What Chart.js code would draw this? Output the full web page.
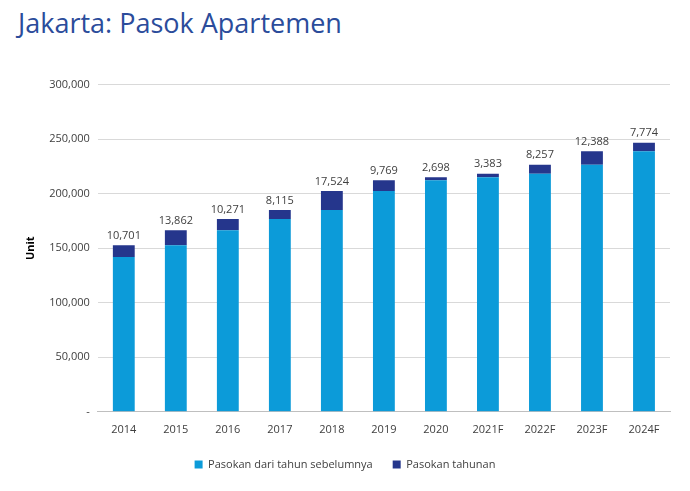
<!DOCTYPE html>
<html><head><meta charset="utf-8">
<script src="https://cdn.jsdelivr.net/npm/chart.js@4/dist/chart.umd.min.js"></script>
<style>
html,body{margin:0;padding:0;background:#fff;width:690px;height:491px;overflow:hidden;font-family:"Open Sans",sans-serif}
#title{position:absolute;left:18px;top:4px;font-size:27px;color:#2b4c9b;font-family:"Open Sans",sans-serif}
#wrap{position:absolute;left:20px;top:70px;width:660px;height:410px}
</style></head><body>
<div id="title">Jakarta: Pasok Apartemen</div>
<div id="wrap"><canvas id="c"></canvas></div>
<script>
const categories=["2014","2015","2016","2017","2018","2019","2020","2021F","2022F","2023F","2024F"];
const baseSupply=[142000,152701,166563,176834,184949,202473,212242,214940,218323,226580,238968];
const annualSupply=[10701,13862,10271,8115,17524,9769,2698,3383,8257,12388,7774];
const yTicks=[0,50000,100000,150000,200000,250000,300000];
const fmt=v=>v===0?"-":v.toLocaleString("en-US");
const labelPlugin={id:"lbl",afterDatasetsDraw(ch){const ctx=ch.ctx;const m=ch.getDatasetMeta(1);ctx.save();ctx.font="11px 'Open Sans'";ctx.fillStyle="#404040";ctx.textAlign="center";ctx.textBaseline="bottom";m.data.forEach((b,i)=>ctx.fillText(fmt(annualSupply[i]),b.x,b.y-4));ctx.restore();}};
new Chart(document.getElementById("c"),{type:"bar",
data:{labels:categories,datasets:[
{label:"Pasokan dari tahun sebelumnya",data:baseSupply,backgroundColor:"#0c9bd9",barPercentage:0.42,categoryPercentage:1},
{label:"Pasokan tahunan",data:annualSupply,backgroundColor:"#25368c",barPercentage:0.42,categoryPercentage:1}]},
options:{responsive:true,maintainAspectRatio:false,animation:false,
layout:{padding:{right:10,top:8}},
plugins:{legend:{position:"bottom",labels:{boxWidth:8,boxHeight:8,font:{size:11,family:"Open Sans"},color:"#404040",padding:20}},tooltip:{enabled:false}},
scales:{x:{stacked:true,grid:{display:false},border:{color:"#bfbfbf"},ticks:{color:"#404040",font:{size:11,family:"Open Sans"}}},
y:{stacked:true,min:0,max:300000,afterBuildTicks:a=>{a.ticks=yTicks.map(v=>({value:v}));},
grid:{color:"#d9d9d9",drawTicks:false},border:{display:false},
ticks:{padding:8,color:"#404040",font:{size:11,family:"Open Sans"},callback:v=>fmt(v)},
title:{display:true,text:"Unit",color:"#000",font:{size:11,weight:"bold",family:"Open Sans"}}}}},
plugins:[labelPlugin]});
</script></body></html>
